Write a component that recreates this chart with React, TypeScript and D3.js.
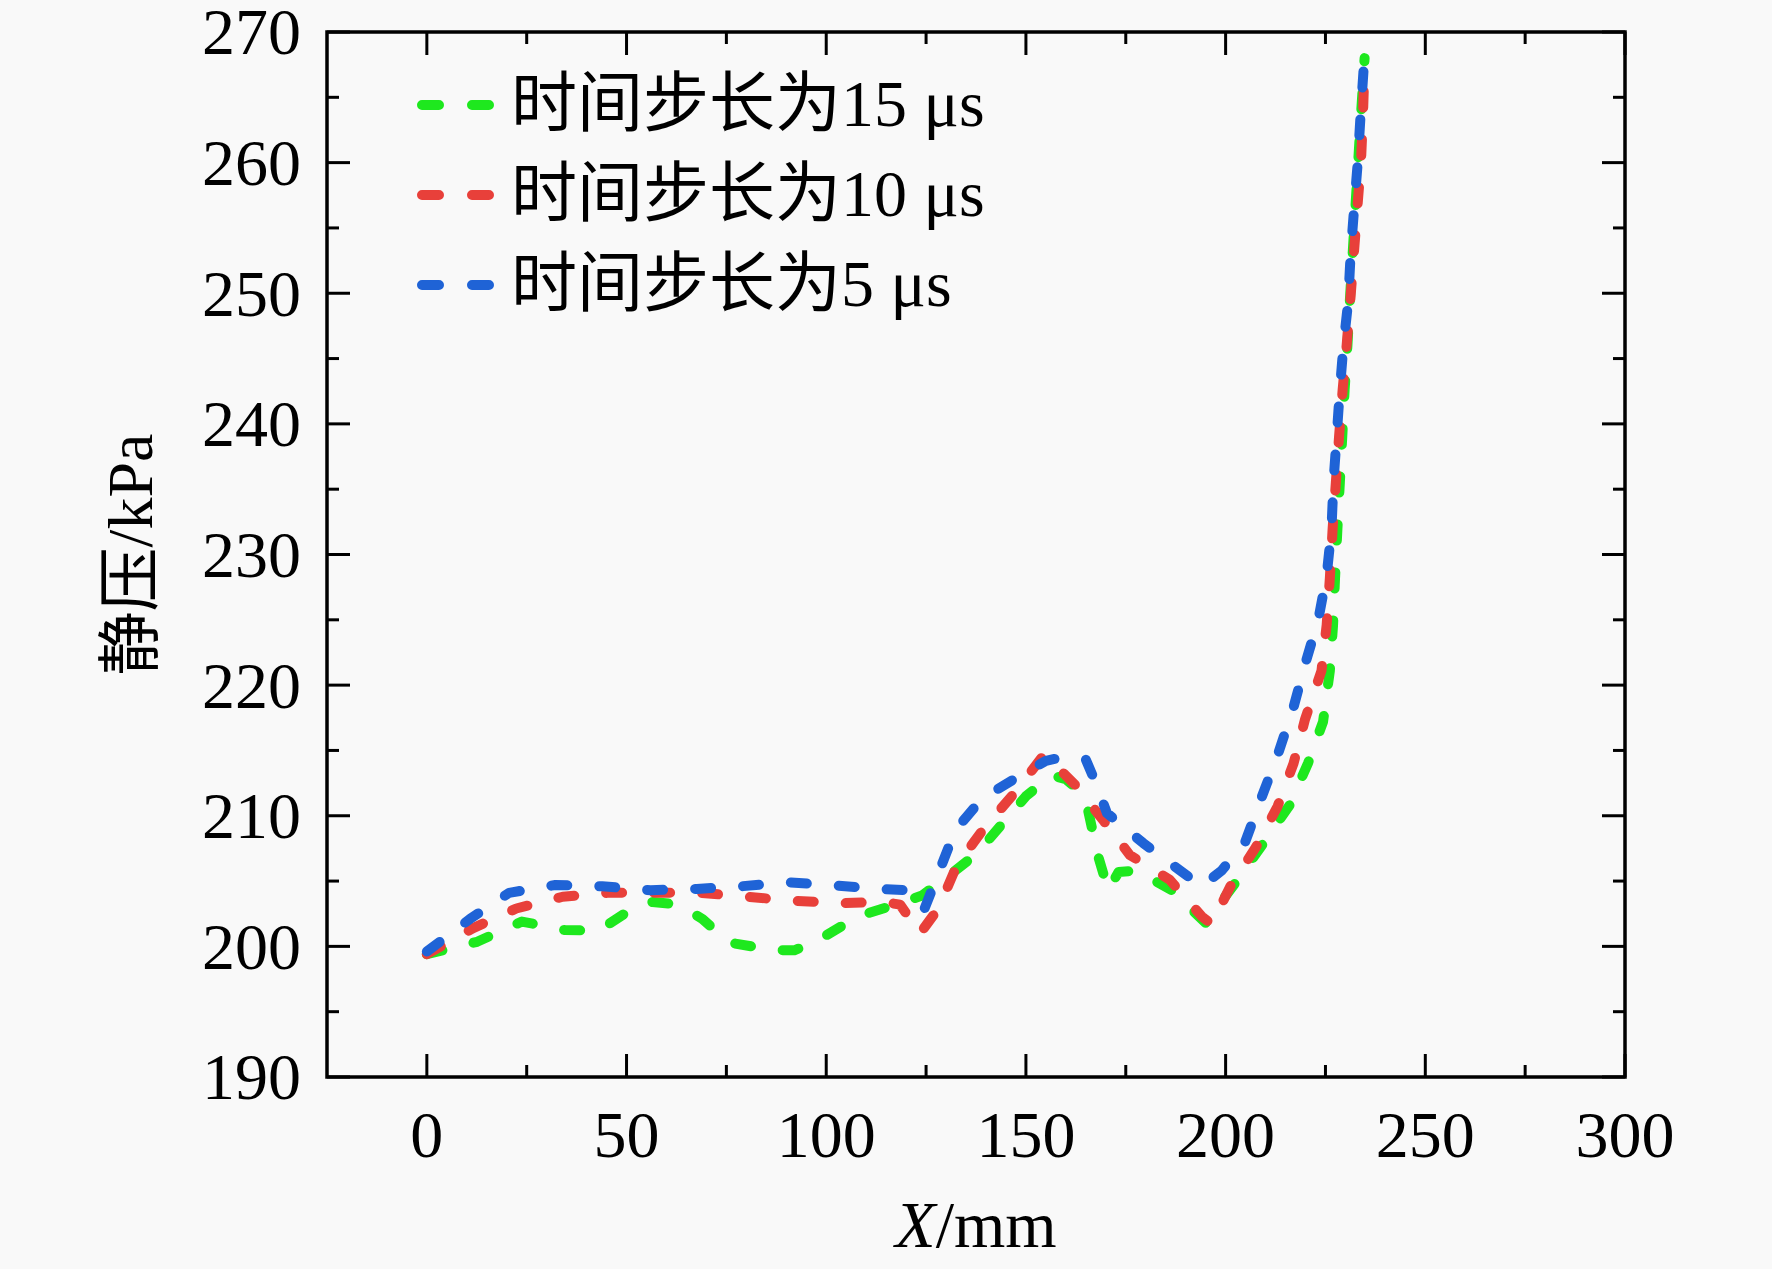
import * as d3 from "d3";
import React from "react";

const W = 1772;
const H = 1269;

// axes
const xDomain = [-25, 300];
const yDomain = [190, 270];
const xMajor = [0, 50, 100, 150, 200, 250, 300];
const xMinor = [25, 75, 125, 175, 225, 275];
const yMajor = [190, 200, 210, 220, 230, 240, 250, 260, 270];
const yMinor = [195, 205, 215, 225, 235, 245, 255, 265];

// static pressure along X: [X mm, kPa]
const step15: [number, number][] = [
  [0, 199.4], [12.6, 200.35], [23.8, 201.9], [34.5, 201.25], [43, 201.2], [52, 203.0],
  [56.5, 203.4], [63, 203.2], [69, 202.1], [75.6, 200.3], [87, 199.7], [92, 199.7],
  [97, 200.3], [108, 202.3], [119.4, 203.4], [124, 203.9], [129.4, 205.1], [137.7, 207.1],
  [145.2, 209.8], [150, 211.5], [156.5, 213.1], [160, 212.8], [163, 212.0], [165.5, 210.5],
  [168, 207], [170.6, 204.3], [173.2, 205.7], [177.7, 205.8], [186.5, 204.3], [195, 201.8],
  [202.3, 204.8], [209, 207.7], [216, 210.8], [220.6, 214], [224.4, 217.2], [226.1, 221.1],
  [226.9, 224.6], [227.4, 228.2], [228, 232], [228.6, 235.5], [229.2, 239], [229.8, 242.6],
  [230.5, 246], [231.1, 249.4], [231.8, 253], [232.5, 256.6], [233.2, 260.1], [233.9, 263.7],
  [234.8, 268],
];

const step10: [number, number][] = [
  [0, 199.4], [11.6, 201.4], [22.4, 202.9], [34, 203.8], [45.2, 204.1], [56.4, 204.1],
  [68.4, 204.1], [80, 203.8], [91.7, 203.5], [103.3, 203.3], [114, 203.4], [118.5, 203.2],
  [123.5, 201.0], [128.1, 202.9], [132.7, 206.2], [139.4, 209.0], [147.3, 211.8], [154.6, 214.7],
  [157, 214], [162.5, 212.3], [169.5, 209.6], [176, 207.0], [186, 205.1], [194, 202.3],
  [196.5, 201.7], [201.2, 204.6], [207.6, 207.6], [213, 210.7], [217, 214.0], [219.9, 217.4],
  [224, 221.1], [225.3, 224.6], [226.1, 228.2], [226.8, 232], [227.6, 235.5], [228.4, 239],
  [229.3, 242.6], [230.3, 246], [231.2, 249.4], [232.1, 253], [233, 256.6], [233.9, 260.1],
  [234.4, 263.7], [234.8, 267.6],
];

const step5: [number, number][] = [
  [0, 199.6], [10.8, 202.1], [20.6, 204.1], [32.2, 204.7], [43.9, 204.6], [56, 204.3],
  [67.6, 204.4], [78.7, 204.6], [90.4, 204.9], [101, 204.7], [112.7, 204.4], [120, 204.3],
  [124.5, 202.8], [128.1, 205.6], [132.3, 208.9], [139, 211.3], [148.6, 213.1], [155, 214.2],
  [159.4, 214.5], [165, 214.3], [167.5, 212.5], [170.3, 210.2], [179.4, 207.9], [188.6, 205.8],
  [194, 204.6], [199, 205.8], [204.9, 208.0], [209, 211.4], [213.2, 214.8], [217, 218.3],
  [219.9, 221.6], [223.2, 225.0], [225.3, 228.4], [226.5, 231.9], [227, 235.5], [227.8, 239.0],
  [228.6, 242.6], [229.5, 246.0], [230.7, 249.4], [231.3, 253.0], [232.2, 256.6], [233.1, 260.1],
  [233.8, 263.7], [234.8, 268.3],
];

const labels = ["15", "10", "5"];
const colors = ["#1ee81e", "#e8403a", "#1f63d6"];
const seriesData = [step15, step10, step5];

const serif = "'Liberation Serif', 'Times New Roman', 'Noto Sans CJK SC', serif";

export default function App() {
  const left = 327;
  const right = 1625;
  const top = 32;
  const bottom = 1077;

  const x = d3.scaleLinear().domain(xDomain).range([left, right]);
  const y = d3.scaleLinear().domain(yDomain).range([bottom, top]);

  const line = d3
    .line<[number, number]>()
    .x((d) => x(d[0]))
    .y((d) => y(d[1]));

  const majorLen = 23;
  const minorLen = 12;

  return (
    <svg
      width={W}
      height={H}
      style={{ position: "absolute", left: 0, top: 0, display: "block" }}
      fontFamily={serif}
    >
      <rect x={0} y={0} width={W} height={H} fill="#f9f9f9" />

      {/* data */}
      {seriesData.map((s, i) => (
        <path
          key={i}
          d={line(s) || ""}
          fill="none"
          stroke={colors[i]}
          strokeWidth={10}
          strokeDasharray="16 32"
          strokeLinecap="round"
          strokeLinejoin="round"
        />
      ))}

      {/* ticks, inward on all four sides */}
      <g stroke="#000" strokeWidth={3}>
        {xMajor.map((t) => (
          <g key={"xM" + t}>
            <line x1={x(t)} x2={x(t)} y1={bottom} y2={bottom - majorLen} />
            <line x1={x(t)} x2={x(t)} y1={top} y2={top + majorLen} />
          </g>
        ))}
        {xMinor.map((t) => (
          <g key={"xm" + t}>
            <line x1={x(t)} x2={x(t)} y1={bottom} y2={bottom - minorLen} />
            <line x1={x(t)} x2={x(t)} y1={top} y2={top + minorLen} />
          </g>
        ))}
        {yMajor.map((t) => (
          <g key={"yM" + t}>
            <line x1={left} x2={left + majorLen} y1={y(t)} y2={y(t)} />
            <line x1={right} x2={right - majorLen} y1={y(t)} y2={y(t)} />
          </g>
        ))}
        {yMinor.map((t) => (
          <g key={"ym" + t}>
            <line x1={left} x2={left + minorLen} y1={y(t)} y2={y(t)} />
            <line x1={right} x2={right - minorLen} y1={y(t)} y2={y(t)} />
          </g>
        ))}
      </g>
      <rect
        x={left}
        y={top}
        width={right - left}
        height={bottom - top}
        fill="none"
        stroke="#000"
        strokeWidth={3.5}
      />

      {/* tick labels */}
      {xMajor.map((t) => (
        <text key={"xl" + t} x={x(t)} y={1157} textAnchor="middle" fontSize={66}>
          {t}
        </text>
      ))}
      {yMajor.map((t) => (
        <text key={"yl" + t} x={301} y={y(t)} dy="0.34em" textAnchor="end" fontSize={66}>
          {t}
        </text>
      ))}

      {/* axis titles */}
      <text x={(left + right) / 2} y={1247} textAnchor="middle" fontSize={66}>
        <tspan fontStyle="italic">X</tspan>/mm
      </text>
      <text
        transform={`translate(152, ${(top + bottom) / 2}) rotate(-90)`}
        textAnchor="middle"
        fontSize={64}
      >
        静压/kPa
      </text>

      {/* legend */}
      {labels.map((l, i) => {
        const cy = 105 + i * 90;
        return (
          <g key={"lg" + i}>
            <line
              x1={422}
              x2={489}
              y1={cy}
              y2={cy}
              stroke={colors[i]}
              strokeWidth={10}
              strokeDasharray="17 33"
              strokeLinecap="round"
            />
            <text x={511} y={cy + 21} fontSize={66}>
              时间步长为{l} μs
            </text>
          </g>
        );
      })}
    </svg>
  );
}
